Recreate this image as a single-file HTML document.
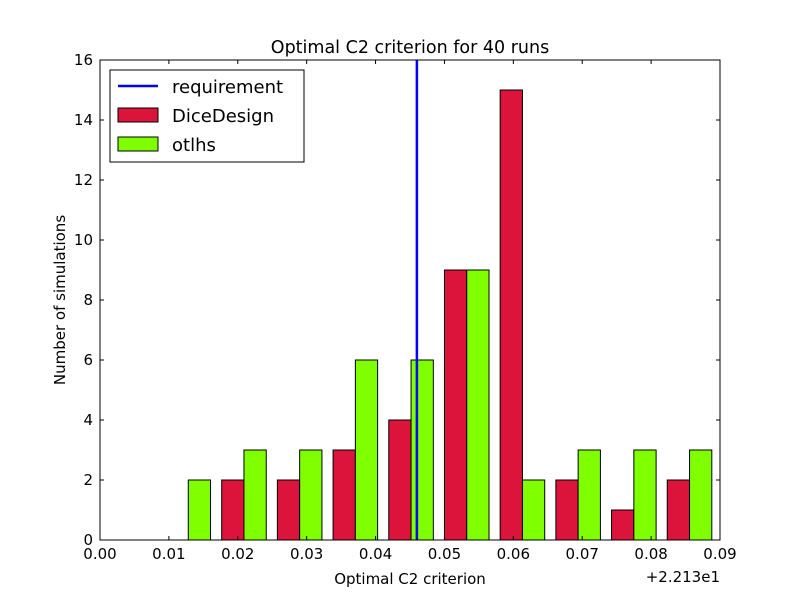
<!DOCTYPE html>
<html><head><meta charset="utf-8"><style>
body{margin:0;background:#fff;font-family:"Liberation Sans",sans-serif}
svg text{font-family:"DejaVu Sans","Liberation Sans",sans-serif}
</style></head><body>
<svg id="c" width="800" height="600"></svg>
<script>
const redCounts=[0,2,2,3,4,9,15,2,1,2];
const greenCounts=[2,3,3,6,6,9,2,3,3,3];
const binStart=0.00877, binWidth=0.008085;
const requirement=0.0460;
const xTicks=["0.00","0.01","0.02","0.03","0.04","0.05","0.06","0.07","0.08","0.09"];
const yTicks=[0,2,4,6,8,10,12,14,16];
const X0=100,X1=720,Y0=540,Y1=60;
const xs=v=>X0+v/0.09*(X1-X0);
const ys=v=>Y0-v/16*(Y0-Y1);
const svg=document.getElementById('c');
const NS='http://www.w3.org/2000/svg';
function mk(t,a,p){const e=document.createElementNS(NS,t);for(const k in a)e.setAttribute(k,a[k]);(p||svg).appendChild(e);return e;}
function bars(arr,off,col,name){arr.forEach((v,i)=>{const s=binStart+binWidth*i+binWidth*(0.1+off);const x=xs(s),w=xs(s+binWidth*0.4)-x;
const r=mk('rect',{x:x,y:ys(v),width:w,height:ys(0)-ys(v),fill:col,stroke:'#000','stroke-width':1});

});}
bars(redCounts,0,'#dc143c','dicedesign');
bars(greenCounts,0.4,'#7fff00','otlhs');
const rl=mk('line',{x1:xs(requirement),x2:xs(requirement),y1:Y1,y2:Y0,stroke:'#0000ff','stroke-width':2.5});


const fr=mk('rect',{x:X0,y:Y1,width:X1-X0,height:Y0-Y1,fill:'none',stroke:'#000','stroke-width':1});


xTicks.forEach((t,i)=>{const x=xs(i*0.01);
mk('line',{x1:x,x2:x,y1:Y0,y2:Y0-4,stroke:'#000'});mk('line',{x1:x,x2:x,y1:Y1,y2:Y1+4,stroke:'#000'});
const tx=mk('text',{x:x,y:Y0+19,'font-size':15,'text-anchor':'middle'});tx.textContent=t;

});
yTicks.forEach(t=>{const y=ys(t);
mk('line',{x1:X0,x2:X0+4,y1:y,y2:y,stroke:'#000'});mk('line',{x1:X1,x2:X1-4,y1:y,y2:y,stroke:'#000'});
const tx=mk('text',{x:X0-7,y:y+5,'font-size':15,'text-anchor':'end'});tx.textContent=t;

});
</script>
<svg width="800" height="600" style="position:absolute;left:0;top:0">
<text x="410" y="53" font-size="17.5" text-anchor="middle" font-family="DejaVu Sans, Liberation Sans, sans-serif">Optimal C2 criterion for 40 runs</text>
<text x="410" y="584" font-size="15" text-anchor="middle" font-family="DejaVu Sans, Liberation Sans, sans-serif">Optimal C2 criterion</text>
<text x="720" y="582" font-size="15" text-anchor="end" font-family="DejaVu Sans, Liberation Sans, sans-serif">+2.213e1</text>
<text transform="translate(65,300) rotate(-90)" font-size="15" text-anchor="middle" font-family="DejaVu Sans, Liberation Sans, sans-serif">Number of simulations</text>
<g>
<rect x="110" y="70" width="194" height="92" fill="#fff" stroke="#000"/>
<line x1="118" x2="158" y1="86" y2="86" stroke="#0000ff" stroke-width="2.5"/>
<text x="172" y="93" font-size="18" font-family="DejaVu Sans, Liberation Sans, sans-serif">requirement</text>
<rect x="118" y="108" width="40" height="14" fill="#dc143c" stroke="#000"/>
<text x="172" y="122" font-size="18" font-family="DejaVu Sans, Liberation Sans, sans-serif">DiceDesign</text>
<rect x="118" y="137" width="40" height="14" fill="#7fff00" stroke="#000"/>
<text x="172" y="151" font-size="18" font-family="DejaVu Sans, Liberation Sans, sans-serif">otlhs</text>
</g>
</svg>
</body></html>
